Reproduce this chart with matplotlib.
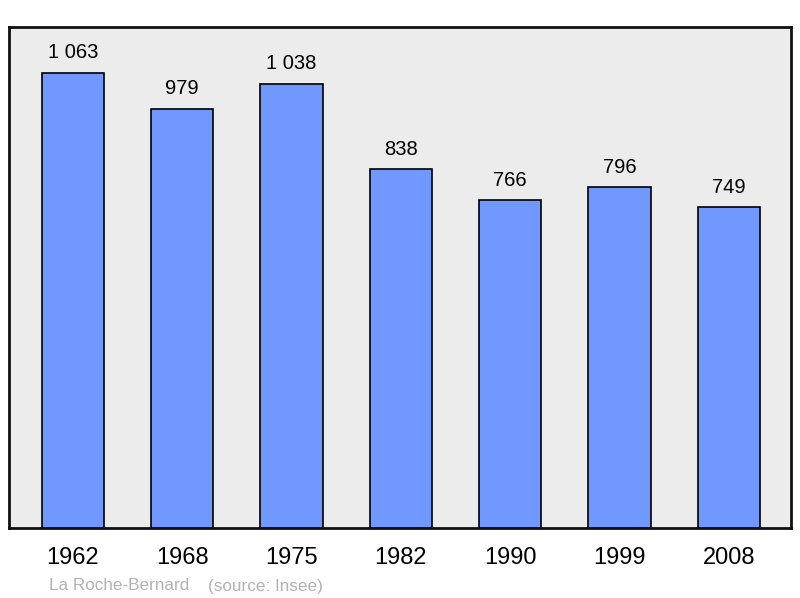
import matplotlib.pyplot as plt
from matplotlib.ticker import FixedLocator

plt.rcParams['font.family'] = ['Liberation Sans', 'DejaVu Sans']

years = ['1962', '1968', '1975', '1982', '1990', '1999', '2008']
population = [1063, 979, 1038, 838, 766, 796, 749]
value_labels = ['1 063', '979', '1 038', '838', '766', '796', '749']

fig = plt.figure(figsize=(8, 5.98), dpi=100)
ax = fig.add_axes([0.01125, 0.117, 0.9775, 0.8378])
ax.set_facecolor('#ececec')

x = list(range(len(years)))
ax.bar(x, population, width=0.57, color='#7098ff', edgecolor='black', linewidth=1.2, zorder=2)

for xi, v, lab in zip(x, population, value_labels):
    ax.annotate(lab, (xi, v), xytext=(0, 7.5), textcoords='offset points',
                ha='center', va='bottom', fontsize=14.5)

ax.set_xlim(-0.585, 6.57)
ax.set_ylim(0, 1170)
ax.xaxis.set_major_locator(FixedLocator(x))
ax.set_xticklabels(years, fontsize=17)
ax.tick_params(axis='x', length=0, pad=14)
ax.set_yticks([])
for s in ax.spines.values():
    s.set_linewidth(2)
    s.set_color('#111111')

fig.text(49 / 800, 1 - 586 / 598, 'La Roche-Bernard', fontsize=12.3, color='#b3b3b3', va='center')
fig.text(208 / 800, 1 - 586 / 598, '(source: Insee)', fontsize=12.3, color='#b3b3b3', va='center')

fig.savefig('out.png', dpi=100)
